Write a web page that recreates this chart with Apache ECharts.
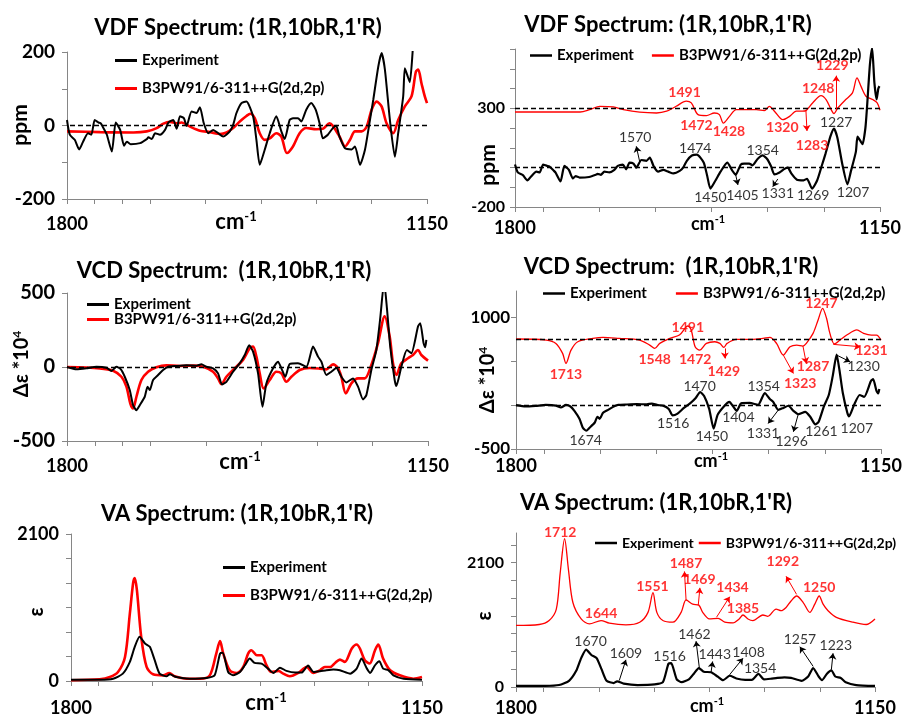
<!DOCTYPE html>
<html>
<head>
<meta charset="utf-8">
<script src="https://cdn.jsdelivr.net/npm/echarts@6.0.0/dist/echarts.min.js"></script>
<style>
html, body { margin: 0; padding: 0; background: #fff; }
#container { width: 906px; height: 717px; }
</style>
</head>
<body>
<div id="container"></div>
<script>
// ---- data (wavenumber cm-1, value) ----
var vdfExp = [[1800,15],[1795,-25],[1786,-39],[1778,-65],[1771,-44],[1762,-21],[1756,-25],[1750,15],[1743,8],[1739,6],[1731,-16],[1728,-25],[1719,-71],[1712,8],[1704,-12],[1697,-55],[1692,-44],[1685,-51],[1668,-48],[1656,-37],[1653,-32],[1647,-37],[1641,-21],[1632,-25],[1623,-12],[1617,8],[1608,15],[1602,-9],[1596,25],[1589,20],[1584,-1],[1575,38],[1566,34],[1560,50],[1553,6],[1545,-21],[1536,-12],[1527,-21],[1518,-30],[1506,-16],[1500,2],[1494,34],[1485,61],[1476,65],[1464,25],[1458,-39],[1452,-107],[1443,-66],[1434,-21],[1422,25],[1413,-16],[1407,-37],[1398,15],[1392,20],[1383,20],[1377,11],[1368,43],[1359,61],[1351,43],[1344,6],[1338,-35],[1329,-25],[1320,-7],[1314,-1],[1308,-30],[1298,-62],[1286,-65],[1280,-57],[1271,-107],[1262,-66],[1253,15],[1247,70],[1238,160],[1232,197],[1226,152],[1217,15],[1208,-85],[1202,-21],[1193,79],[1190,156],[1184,130],[1181,118],[1176,200],[1173,310],[1168,520],[1164,605],[1160,430],[1156,345],[1153,400],[1151,412]];
var vdfCalcScaled = [[1800,-16],[1740,-18],[1680,-19],[1656,-16],[1638,-7],[1626,5],[1614,10],[1602,6],[1593,8],[1578,-3],[1560,-14],[1542,-18],[1524,-23],[1512,-19],[1500,-7],[1488,11],[1476,26],[1469,32],[1461,20],[1452,-21],[1443,-39],[1434,-35],[1422,-21],[1413,-30],[1403,-75],[1392,-57],[1380,-21],[1368,-7],[1350,-10],[1338,-9],[1326,6],[1320,-1],[1308,-30],[1298,-57],[1289,-39],[1280,-16],[1268,-16],[1259,-3],[1250,43],[1241,65],[1232,52],[1223,6],[1211,-21],[1202,15],[1190,52],[1178,79],[1170,147],[1166,152],[1160,115],[1154,79],[1150,61]];
var vdfCalc = [[1800,281],[1684,281],[1667,293],[1649,310],[1625,307],[1607,293],[1578,280],[1548,276],[1530,285],[1513,310],[1495,336],[1486,327],[1474,268],[1459,263],[1445,276],[1436,268],[1429,225],[1418,259],[1406,293],[1388,293],[1370,293],[1356,288],[1347,310],[1338,285],[1323,242],[1311,259],[1299,285],[1288,285],[1282,288],[1270,327],[1255,364],[1246,344],[1237,293],[1232,273],[1225,302],[1211,344],[1199,378],[1191,454],[1184,412],[1175,361],[1163,344],[1155,327],[1150,290]];

var vcdExp = [[1800,0],[1783,-16],[1765,-9],[1747,2],[1729,-5],[1720,-27],[1711,2],[1703,-16],[1696,-66],[1687,-156],[1681,-258],[1675,-292],[1669,-258],[1660,-201],[1655,-133],[1651,-156],[1645,-88],[1636,-54],[1627,-20],[1618,2],[1603,7],[1585,11],[1567,9],[1558,18],[1549,2],[1537,-9],[1528,-43],[1521,-118],[1513,-100],[1501,-32],[1489,25],[1480,81],[1472,147],[1465,104],[1456,-43],[1448,-269],[1441,-111],[1429,-9],[1420,36],[1414,-9],[1407,-66],[1399,20],[1384,25],[1369,2],[1357,138],[1348,70],[1342,36],[1333,-54],[1324,-32],[1315,-7],[1306,-66],[1297,-104],[1285,-77],[1276,-133],[1267,-219],[1261,-190],[1252,-20],[1243,115],[1236,330],[1229,575],[1224,400],[1218,138],[1210,-88],[1207,-129],[1198,2],[1188,115],[1180,93],[1168,274],[1164,296],[1158,161],[1155,133],[1153,183]];
var vcdCalcScaled = [[1800,0],[1741,-9],[1717,-25],[1702,-66],[1693,-133],[1686,-247],[1681,-280],[1675,-201],[1666,-88],[1654,-32],[1639,-2],[1621,11],[1597,7],[1573,9],[1555,2],[1537,-32],[1528,-77],[1522,-115],[1513,-66],[1501,-20],[1483,48],[1471,127],[1465,138],[1459,70],[1453,-43],[1446,-145],[1435,-88],[1423,-32],[1414,-43],[1405,-100],[1396,-66],[1381,-20],[1363,-7],[1345,-11],[1333,-16],[1321,18],[1312,-9],[1306,-66],[1298,-179],[1288,-111],[1276,-77],[1264,-77],[1252,14],[1240,161],[1228,342],[1219,206],[1213,25],[1207,-54],[1198,25],[1186,59],[1177,81],[1168,115],[1162,81],[1150,43]];
var vcdCalc = [[1800,753],[1746,741],[1729,703],[1717,589],[1711,475],[1702,627],[1690,722],[1663,760],[1645,772],[1616,760],[1580,741],[1562,684],[1553,646],[1544,703],[1526,760],[1509,798],[1494,901],[1488,856],[1481,665],[1473,627],[1461,703],[1446,722],[1437,703],[1430,658],[1424,703],[1408,749],[1378,749],[1360,760],[1348,772],[1336,703],[1324,570],[1312,665],[1300,684],[1289,673],[1283,703],[1271,817],[1262,970],[1254,1103],[1247,989],[1241,817],[1233,696],[1223,741],[1211,798],[1193,856],[1181,817],[1167,798],[1158,798],[1150,741]];

var vaExp = [[1800,19],[1747,19],[1722,33],[1704,105],[1691,273],[1682,488],[1673,631],[1663,536],[1654,488],[1645,297],[1636,105],[1623,67],[1617,96],[1605,57],[1580,33],[1549,43],[1534,81],[1524,392],[1519,402],[1509,129],[1500,81],[1487,129],[1478,225],[1469,320],[1460,258],[1447,249],[1435,177],[1425,115],[1413,191],[1401,144],[1385,120],[1373,120],[1361,220],[1351,129],[1339,139],[1327,153],[1314,163],[1302,153],[1283,105],[1271,177],[1262,320],[1252,177],[1246,115],[1237,225],[1229,282],[1222,177],[1212,153],[1203,81],[1184,33],[1150,19]];
var vaCalcScaled = [[1800,10],[1747,24],[1728,57],[1713,129],[1700,344],[1691,966],[1685,1397],[1682,1469],[1678,1301],[1670,631],[1660,201],[1648,96],[1629,81],[1618,115],[1608,67],[1586,33],[1561,33],[1543,81],[1531,392],[1524,569],[1518,392],[1506,153],[1493,115],[1481,201],[1472,392],[1466,440],[1456,368],[1447,368],[1438,225],[1429,129],[1416,144],[1407,105],[1395,67],[1379,115],[1364,201],[1351,115],[1339,153],[1330,201],[1320,201],[1311,258],[1302,306],[1293,273],[1280,464],[1271,521],[1265,464],[1256,297],[1247,249],[1237,440],[1231,521],[1222,320],[1209,153],[1191,81],[1166,33],[1150,57]];
var vaCalc = [[1800,1039],[1758,1055],[1740,1122],[1727,1315],[1720,1923],[1712,2503],[1705,1978],[1697,1426],[1682,1149],[1667,1066],[1646,1122],[1631,1077],[1601,1050],[1576,1094],[1561,1260],[1552,1592],[1545,1260],[1534,1122],[1516,1094],[1501,1260],[1492,1470],[1480,1398],[1469,1382],[1462,1260],[1450,1149],[1434,1160],[1422,1094],[1407,1083],[1396,1149],[1389,1216],[1380,1149],[1371,1122],[1353,1216],[1344,1194],[1329,1315],[1320,1288],[1311,1343],[1302,1453],[1292,1536],[1280,1426],[1268,1260],[1259,1398],[1251,1536],[1244,1398],[1235,1288],[1220,1177],[1190,1094],[1166,1055],[1150,1149]];

// peak labels: [text, wavenumber, value]; arrows: [x1, y1, x2, y2]
var vdfExpNotes = [['1570',1586,153],['1474',1479,98],['1354',1359,85],['1227',1228,229],['1450',1452,-151],['1405',1395,-142],['1331',1332,-134],['1269',1269,-143],['1207',1198,-124]];
var vdfExpArrows = [[1578,30,1584,107],[1407,-37,1403,-88],[1332,-58,1341,-97]];
var vdfCalcNotes = [['1491',1498,378],['1472',1477,212],['1428',1419,180],['1320',1324,205],['1283',1271,113],['1248',1260,401],['1229',1235,517]];
var vdfCalcArrows = [[1282,292,1280,185],[1228,292,1228,465]];

var vcdExpNotes = [['1674',1676,-399],['1516',1520,-209],['1470',1473,217],['1450',1451,-361],['1404',1404,-144],['1354',1359,209],['1331',1360,-323],['1296',1309,-418],['1261',1256,-304],['1230',1181,445],['1207',1193,-266]];
var vcdExpArrows = [[1333,-57,1351,-209],[1297,-95,1306,-304],[1229,570,1205,494]];
var vcdCalcNotes = [['1713',1711,354],['1548',1553,525],['1491',1494,886],['1472',1481,525],['1429',1430,380],['1323',1294,247],['1287',1271,437],['1247',1256,1160],['1231',1167,627]];
var vcdCalcArrows = [[1428,646,1428,532],[1324,570,1306,361],[1289,673,1283,475],[1235,692,1187,665]];

var vaExpNotes = [['1670',1665,774],['1609',1601,569],['1516',1522,508],['1462',1477,895],['1443',1440,542],['1408',1379,586],['1354',1358,321],['1257',1286,801],['1223',1221,707]];
var vaExpArrows = [[1613,110,1601,459],[1468,321,1474,774],[1447,238,1444,431],[1413,210,1389,486],[1262,348,1286,680],[1229,293,1226,569]];
var vaCalcNotes = [['1712',1720,2614],['1644',1646,1243],['1551',1553,1702],['1487',1492,2089],['1469',1468,1813],['1434',1408,1674],['1385',1389,1326],['1292',1317,2117],['1250',1251,1674]];
var vaCalcArrows = [[1492,1453,1495,1951],[1470,1382,1467,1674],[1437,1177,1413,1525],[1292,1564,1311,1868]];

// axis ticks and labels
var xTicksA = [1800,1750,1700,1650,1550,1450,1350,1250,1150];
var xTicksB = [1800,1750,1650,1550,1450,1350,1250,1150];
var xLabels = [1800,1150];
var vdfTicksL = [-200,-100,0,100,200], vdfLabelsL = [-200,0,200];
var vdfTicksR = [-200,-100,0,100,200,300,400,500,600], vdfLabelsR = [-200,300];
var vcdTicksL = [-500,0,500], vcdLabelsL = [-500,0,500];
var vcdTicksR = [-500,0,500,1000], vcdLabelsR = [-500,1000];
var vaTicksL = [0,350,700,1050,1400,1750,2100], vaLabelsL = [0,2100];
var vaTicksR = [0,300,600,900,1200,1500,1800,2100,2400], vaLabelsR = [0,2100];
var vdfBaseL = [0], vdfBaseR = [0,300];
var vcdBaseL = [0], vcdBaseR = [0,750];

var EXP = 'Experiment';
var CALC = 'B3PW91/6-311++G(2d,2p)';
var FONT = 'Lato, "DejaVu Sans", sans-serif';
var RED = '#ff0000';

var panels = [
    {grid:{left:67,top:52,width:360,height:147}, min:-200, max:200, exp:vdfExp, calc:vdfCalcScaled, yt:vdfTicksL, yl:vdfLabelsL, xt:xTicksA, base:vdfBaseL, wide:true, ySize:19, yMargin:12, xMargin:16,
     legend:{left:110, top:48, orient:'vertical', itemGap:13, size:15}},
    {grid:{left:515,top:49,width:365,height:158}, min:-200, max:600, exp:vdfExp, calc:vdfCalc, yt:vdfTicksR, yl:vdfLabelsR, xt:xTicksB, base:vdfBaseR, wide:false, ySize:16, yMargin:10, xMargin:12,
     en:vdfExpNotes, ea:vdfExpArrows, cn:vdfCalcNotes, ca:vdfCalcArrows,
     legend:{left:525, top:43, orient:'horizontal', itemGap:18, size:15}},
    {grid:{left:67,top:293,width:361,height:148}, min:-500, max:500, exp:vcdExp, calc:vcdCalcScaled, yt:vcdTicksL, yl:vcdLabelsL, xt:xTicksA, base:vcdBaseL, wide:true, ySize:20, yMargin:12, xMargin:16,
     legend:{left:82, top:292, orient:'vertical', itemGap:0, size:15}},
    {grid:{left:516,top:291,width:365,height:158}, min:-500, max:1300, exp:vcdExp, calc:vcdCalc, yt:vcdTicksR, yl:vcdLabelsR, xt:xTicksB, base:vcdBaseR, wide:false, ySize:17, yMargin:6, xMargin:8,
     en:vcdExpNotes, ea:vcdExpArrows, cn:vcdCalcNotes, ca:vcdCalcArrows,
     legend:{left:538, top:281, orient:'horizontal', itemGap:29, size:15}},
    {grid:{left:71,top:534,width:351,height:147}, min:0, max:2100, exp:vaExp, calc:vaCalcScaled, yt:vaTicksL, yl:vaLabelsL, xt:xTicksB, base:[], wide:true, ySize:18, yMargin:12, xMargin:18,
     legend:{left:218, top:555, orient:'vertical', itemGap:13, size:15}},
    {grid:{left:516,top:533,width:359,height:156}, min:0, max:2600, exp:vaExp, calc:vaCalc, yt:vaTicksR, yl:vaLabelsR, xt:xTicksB, base:[], wide:false, ySize:16, yMargin:12, xMargin:12,
     en:vaExpNotes, ea:vaExpArrows, cn:vaCalcNotes, ca:vaCalcArrows,
     legend:{left:590, top:531, orient:'horizontal', itemGap:5, size:14, width:400}}
];

var axisGray = '#868686';
var grid = [], xAxis = [], yAxis = [], series = [], legend = [];

function plain(v) { return String(v); }

function notesSeries(i, notes, arrows, color, bold) {
    return {
        type: 'scatter', name: 'notes' + i + color, xAxisIndex: i, yAxisIndex: i,
        symbolSize: 1, clip: false, silent: true, z: 5,
        itemStyle: {color: 'transparent'},
        data: notes.map(function (n) { return [n[1], n[2], n[0]]; }),
        label: {show: true, position: 'inside', formatter: function (p) { return p.data[2]; },
                fontFamily: FONT, fontSize: 14, fontWeight: bold ? 'bold' : 'normal', color: color},
        markLine: {
            silent: true, symbol: ['none', 'arrow'], symbolSize: 6, animation: false,
            lineStyle: {color: color, width: 1, type: 'solid'}, label: {show: false},
            data: arrows.map(function (a) { return [{coord: [a[0], a[1]]}, {coord: [a[2], a[3]]}]; })
        }
    };
}

panels.forEach(function (p, i) {
    grid.push(p.grid);
    xAxis.push({
        gridIndex: i, type: 'value', min: 1150, max: 1800, inverse: true,
        axisLine: {onZero: false, lineStyle: {color: axisGray, width: 1}},
        axisTick: {show: true, customValues: p.xt, length: 5, lineStyle: {color: axisGray}},
        axisLabel: {customValues: xLabels, formatter: plain, fontFamily: FONT, fontSize: 18, fontWeight: 'bold', color: '#000', margin: p.xMargin},
        splitLine: {show: false}
    });
    yAxis.push({
        gridIndex: i, type: 'value', min: p.min, max: p.max,
        axisLine: {show: true, onZero: false, lineStyle: {color: axisGray, width: 1}},
        axisTick: {show: true, customValues: p.yt, length: 5, lineStyle: {color: axisGray}},
        axisLabel: {customValues: p.yl, formatter: plain, fontFamily: FONT, fontSize: p.ySize, fontWeight: 'bold', color: '#000', margin: p.yMargin},
        splitLine: {show: false}
    });
    series.push({
        type: 'line', name: EXP, xAxisIndex: i, yAxisIndex: i, data: p.exp,
        showSymbol: false, smooth: 0.2, z: 3,
        lineStyle: {color: '#000', width: p.wide ? 2 : 2.2}, itemStyle: {color: '#000'},
        markLine: {
            silent: true, symbol: 'none', animation: false, label: {show: false},
            lineStyle: {color: '#000', width: 1.3, type: [5, 3]},
            data: p.base.map(function (b) { return {yAxis: b}; })
        }
    });
    series.push({
        type: 'line', name: CALC, xAxisIndex: i, yAxisIndex: i, data: p.calc,
        showSymbol: false, smooth: 0.3, z: 2,
        lineStyle: {color: RED, width: p.wide ? 2.6 : 1.3}, itemStyle: {color: RED}
    });
    if (p.en) {
        series.push(notesSeries(i, p.en, p.ea, '#000', false));
        series.push(notesSeries(i, p.cn, p.ca, RED, true));
    }
    var lg = {
        left: p.legend.left, top: p.legend.top, orient: p.legend.orient, itemGap: p.legend.itemGap,
        selectedMode: false, icon: 'rect', itemWidth: 22, itemHeight: p.wide ? 3 : 2.5,
        textStyle: {fontFamily: FONT, fontSize: p.legend.size, fontWeight: 'bold', color: '#000'},
        data: [EXP, CALC]
    };
    if (p.legend.width) lg.width = p.legend.width;
    legend.push(lg);
});

function txt(x, y, text, size, rot, rich) {
    var st = {text: text, fontFamily: FONT, fontSize: size, fontWeight: 'bold', fill: '#000',
              align: 'center', verticalAlign: 'middle', textAlign: 'center', textVerticalAlign: 'middle'};
    if (rich) st.rich = rich;
    return {type: 'text', x: x, y: y, rotation: rot || 0, style: st, silent: true};
}
function supRich(size) {
    return {
        a: {fontFamily: FONT, fontSize: size, fontWeight: 'bold', color: '#000', lineHeight: size + 2},
        b: {fontFamily: FONT, fontSize: Math.round(size * 0.6), fontWeight: 'bold', color: '#000', verticalAlign: 'top'}
    };
}

var titleVDF = "VDF Spectrum: (1R,10bR,1'R)";
var titleVCD = "VCD Spectrum:  (1R,10bR,1'R)";
var titleVA = "VA Spectrum: (1R,10bR,1'R)";
var R90 = Math.PI / 2;

var graphic = [
    txt(238, 28, titleVDF, 22), txt(668, 25, titleVDF, 22),
    txt(224, 271, titleVCD, 22), txt(671, 267, titleVCD, 22),
    txt(237, 514, titleVA, 22), txt(656, 503, titleVA, 22),
    txt(20, 125, 'ppm', 21, R90), txt(488, 165, 'ppm', 21, R90),
    txt(22, 364, '{a|Δε *10}{b|4}', 20, R90, supRich(20)), txt(488, 380, '{a|Δε *10}{b|4}', 20, R90, supRich(20)),
    txt(37, 612, 'ε', 20, R90), txt(485, 616, 'ε', 20, R90),
    txt(236, 222, '{a|cm}{b|-1}', 22, 0, supRich(22)), txt(708, 224, '{a|cm}{b|-1}', 18, 0, supRich(18)),
    txt(240, 462, '{a|cm}{b|-1}', 22, 0, supRich(22)), txt(711, 461, '{a|cm}{b|-1}', 18, 0, supRich(18)),
    txt(266, 703, '{a|cm}{b|-1}', 22, 0, supRich(22)), txt(707, 706, '{a|cm}{b|-1}', 18, 0, supRich(18))
];

var myChart = echarts.init(document.getElementById('container'));
var option = {
    animation: false,
    backgroundColor: '#fff',
    grid: grid,
    xAxis: xAxis,
    yAxis: yAxis,
    legend: legend,
    graphic: graphic,
    series: series
};
myChart.setOption(option, true);
</script>
</body>
</html>
